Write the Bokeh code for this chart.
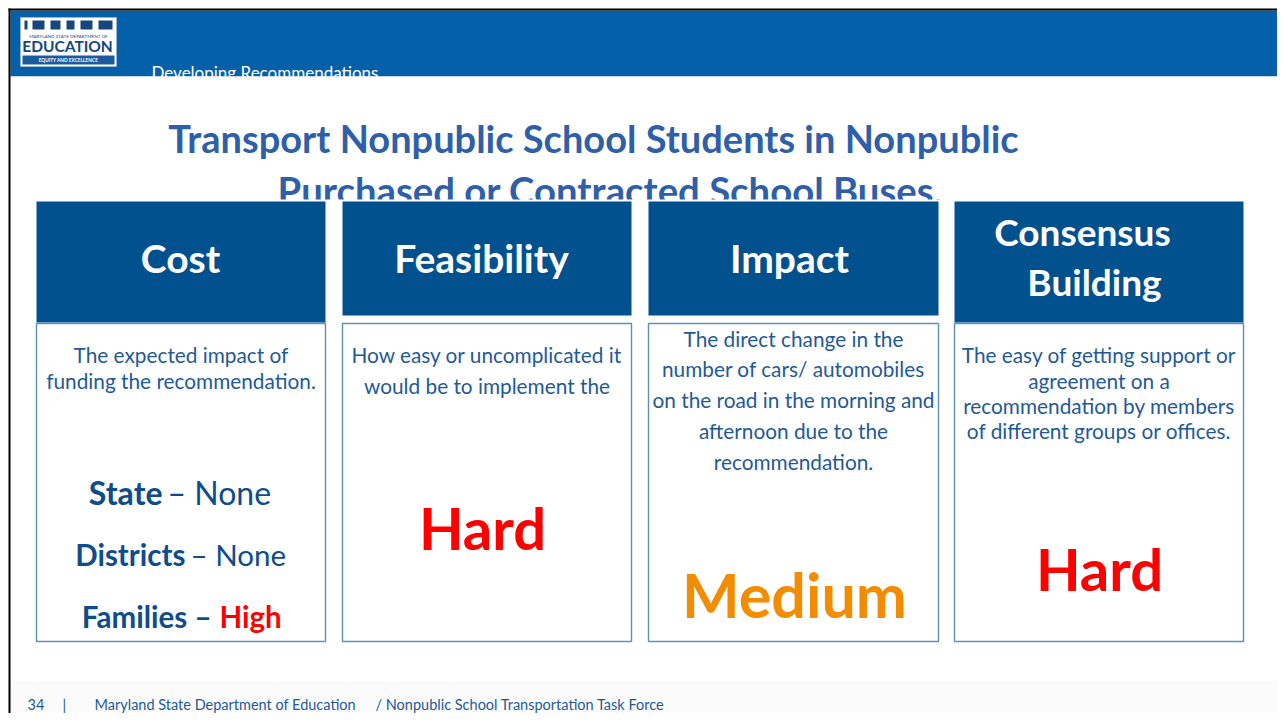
from bokeh.plotting import figure
from bokeh.models import Range1d
from bokeh.core.properties import value
from bokeh.embed import file_html
from bokeh.resources import INLINE

# ---------------- data ----------------
title_lines = ["Transport Nonpublic School Students in Nonpublic",
               "Purchased or Contracted School Buses."]
section = "Developing  Recommendations"
headers = [["Cost"], ["Feasibility"], ["Impact"], ["Consensus", "Building"]]
descriptions = [
    ["The expected impact of", "funding the recommendation."],
    ["How easy or uncomplicated it", "would be to implement the"],
    ["The direct change in the", "number of cars/ automobiles",
     "on the road in the morning and", "afternoon due to the", "recommendation."],
    ["The easy of getting support or", "agreement on a",
     "recommendation by members", "of different groups or offices."],
]
cost_groups = ["State", "Districts", "Families"]
cost_levels = ["None", "None", "High"]
ratings = [None, "Hard", "Medium", "Hard"]
rating_colors = {"Hard": "#FF0000", "Medium": "#F28C00", "High": "#FF0000", "None": "#0F4C8A"}
footer_page = "34"
footer_org = "Maryland State Department of Education"
footer_task = "/ Nonpublic School Transportation Task Force"

# ---------------- styles / layout ----------------
FONT = "Lato"
HEADER_BLUE = "#0460A9"
BOX_BLUE = "#02518F"
TITLE_BLUE = "#2F5FA9"
BODY_BLUE = "#1F5A96"
DARK_BLUE = "#0F4C8A"

W, H = 1277, 713
p = figure(width=W, height=H, x_range=Range1d(0, W), y_range=Range1d(H, 0),
           output_backend="svg", toolbar_location=None, min_border=0,
           x_axis_location=None, y_axis_location=None)
p.grid.visible = False
p.outline_line_color = None
p.background_fill_color = "white"
p.border_fill_color = "white"


def rect(x0, x1, y0, y1, fill, line=None, lw=1.0):
    p.quad(left=x0, right=x1, top=y0, bottom=y1, fill_color=fill,
           line_color=line, line_width=lw)


def txt(x, y, s, size, color, bold=False, align="center", font=FONT):
    p.text(x=[x], y=[y], text=[s], text_font=value(font), text_font_size=f"{size}px",
           text_color=color, text_align=align, text_baseline="middle",
           text_font_style="bold" if bold else "normal")


# footer band (very faint)
rect(10, W, 680, H, "#FBFBFB")

# header band + section label (clipped by content area)
rect(10, W, 10, 76, HEADER_BLUE)
txt(151, 72, section, 17, "white", align="left")
rect(10, W, 76, 680, "white")

# black frame lines
rect(8, W, 8, 10, "#000000")
rect(8, 10, 8, H, "#000000")

# logo
rect(20, 116, 17, 66, "white", "#9DB4CF", 0.8)
for (a, b) in [(24, 27), (32, 44), (50, 60), (66, 74), (80, 92), (98, 112)]:
    rect(a, b, 20, 29, "#17457D")
txt(68, 35, "MARYLAND STATE DEPARTMENT OF", 4.6, "#17457D")
txt(67, 45.5, "EDUCATION", 15.5, "#17457D", bold=True)
rect(22, 114, 55, 64, "#1C5A9E")
txt(68, 59.5, "EQUITY AND EXCELLENCE", 4.8, "white", bold=True)

# title
txt(593, 137, title_lines[0], 38, TITLE_BLUE, bold=True)
txt(610, 189, title_lines[1], 38.3, TITLE_BLUE, bold=True)
rect(30, 1255, 199, 330, "white")

# boxes
col_x = [(36, 325), (342, 631), (648, 938), (954, 1243)]
head_bottom = [322, 315, 315, 322]
head_cx = [[180], [481], [789], [1082, 1094]]
head_cy = [[257], [257], [257], [231, 281]]
head_size = [39, 39, 39, 37]
desc_lines_y = [[354, 380], [354, 385], [338, 368, 399, 430, 461], [354, 380, 405, 430]]
for i, ((x0, x1), hb) in enumerate(zip(col_x, head_bottom)):
    rect(x0, x1, 323, 641, "white", "#5F8EBF", 1.4)
    rect(x0, x1, 201, hb, BOX_BLUE)
    cx = (x0 + x1) / 2
    for s, hx, hy in zip(headers[i], head_cx[i], head_cy[i]):
        txt(hx, hy, s, head_size[i], "white", bold=True)
    for s, y in zip(descriptions[i], desc_lines_y[i]):
        txt(cx, y, s, 20.8, BODY_BLUE)

# cost breakdown
cost_split_x = [162, 185, 211]
cost_mid_y = [492, 554, 616]
cost_size = [32, 29.5, 29.5]
for g, lvl, sx, cy, fs in zip(cost_groups, cost_levels, cost_split_x, cost_mid_y, cost_size):
    if lvl == "High":
        txt(sx, cy, g + " \u2013", fs, DARK_BLUE, bold=True, align="right")
        txt(sx + 8, cy, lvl, fs, rating_colors[lvl], bold=True, align="left")
    else:
        txt(sx, cy, g, fs, DARK_BLUE, bold=True, align="right")
        txt(sx + 5, cy, "\u2013 " + lvl, fs, DARK_BLUE, align="left")

# ratings
rating_pos = [None, (482, 527), (794, 594), (1099, 568)]
rating_size = {"Hard": 58, "Medium": 61}
for r, pos in zip(ratings, rating_pos):
    if r is None:
        continue
    txt(pos[0], pos[1], r, rating_size[r], rating_colors[r], bold=True)

# footer
txt(27, 703.5, footer_page, 14.5, BODY_BLUE, align="left")
txt(62, 703.5, "|", 14.5, BODY_BLUE, align="left")
txt(94, 703.5, footer_org, 14.5, BODY_BLUE, align="left")
txt(375, 703.5, footer_task, 14.5, BODY_BLUE, align="left")

open("out.html", "w").write(file_html(p, INLINE))
